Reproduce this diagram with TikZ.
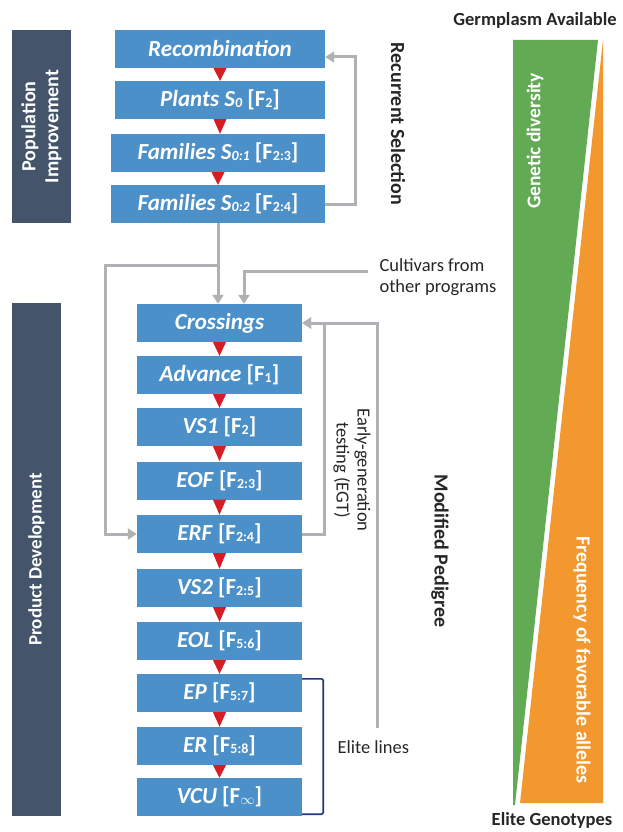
\documentclass[tikz,border=0pt]{standalone}
\usepackage{fontspec}
\setmainfont{Carlito}
\usetikzlibrary{arrows.meta,calc}

\definecolor{boxblue}{RGB}{76,144,201}
\definecolor{slate}{RGB}{68,84,106}
\definecolor{linegray}{RGB}{176,177,181}
\definecolor{selred}{RGB}{213,29,38}
\definecolor{divgreen}{RGB}{99,170,84}
\definecolor{allorange}{RGB}{242,152,46}
\definecolor{navy}{RGB}{31,56,120}

% small index in the box labels
\newcommand{\sx}[1]{\raisebox{-0.1ex}{\fontsize{14}{14}\selectfont #1}}

\tikzset{
  stepbox/.style={fill=boxblue, text=white, inner sep=0pt, minimum height=38pt,
    font=\fontsize{23}{26}\selectfont\bfseries},
  sidebox/.style={fill=slate, text=white, inner sep=0pt, align=center,
    font=\fontsize{20}{23}\selectfont\bfseries},
  feedback/.style={draw=linegray, line width=3pt},
  arr/.style={-{Triangle[width=11pt,length=9pt]}},
  sidelabel/.style={text=black!85, font=\fontsize{20}{22}\selectfont\bfseries},
  note/.style={text=black!85, font=\fontsize{18.5}{21}\selectfont, align=left}
}

\begin{document}
\begin{tikzpicture}[x=1pt, y=-1pt]
\useasboundingbox (0,0) rectangle (622,832);

% Population Improvement
\node[sidebox, rotate=90, minimum width=193pt, minimum height=59pt] (popbar) at (41.5,126.5) {Population\\Improvement};

\node[stepbox, minimum width=210pt] (rec) at (220,49) {\textit{Recombination}};
\node[stepbox, minimum width=210pt] (plants) at (220,100) {\textit{Plants S\sx{0}} [F\sx{2}]};
\node[stepbox, minimum width=214pt] (fam1) at (218,153) {\textit{Families S\sx{0:1}} [F\sx{2:3}]};
\node[stepbox, minimum width=214pt] (fam2) at (218,204) {\textit{Families S\sx{0:2}} [F\sx{2:4}]};

% Recurrent Selection loop
\coordinate (rsTop) at (355,57);
\draw[feedback, arr] (fam2.east) -| (rsTop) -- (rec.east |- rsTop);
\node[sidelabel, rotate=-90] (rslabel) at (398,124) {Recurrent Selection};

% Product Development
\node[sidebox, rotate=90, minimum width=513pt, minimum height=49pt, font=\fontsize{19}{22}\selectfont\bfseries] (prodbar) at (36.5,559.5) {Product Development};

\node[stepbox, minimum width=165pt] (cross) at (219.5,323) {\textit{Crossings}};
\node[stepbox, minimum width=165pt] (adv) at (219.5,375) {\textit{Advance} [F\sx{1}]};
\node[stepbox, minimum width=165pt] (vs1) at (219.5,427) {\textit{VS1} [F\sx{2}]};
\node[stepbox, minimum width=165pt] (eof) at (219.5,480.5) {\textit{EOF} [F\sx{2:3}]};
\node[stepbox, minimum width=165pt] (erf) at (219.5,534) {\textit{ERF} [F\sx{2:4}]};
\node[stepbox, minimum width=165pt] (vs2) at (219.5,588) {\textit{VS2} [F\sx{2:5}]};
\node[stepbox, minimum width=165pt] (eol) at (219.5,641) {\textit{EOL} [F\sx{5:6}]};
\node[stepbox, minimum width=165pt] (ep) at (219.5,693) {\textit{EP} [F\sx{5:7}]};
\node[stepbox, minimum width=165pt] (er) at (219.5,746) {\textit{ER} [F\sx{5:8}]};
\node[stepbox, minimum width=165pt] (vcu) at (219.5,797) {\textit{VCU} [F\sx{$\infty$}]};

% red selection marks between steps
\foreach \a/\b in {rec/plants, plants/fam1, fam1/fam2, cross/adv, adv/vs1, vs1/eof,
                   eof/erf, erf/vs2, vs2/eol, eol/ep, ep/er, er/vcu}
  \fill[selred] ($(\a.south)+(-6.5,0)$) -- ($(\a.south)+(6.5,0)$) -- (\a.south |- \b.north) -- cycle;

% from population improvement into crossings and ERF
\coordinate (split) at (fam2.south |- 0,265);
\draw[feedback, arr] (fam2.south) -- (fam2.south |- cross.north);
\draw[feedback, arr] (split) -- (105,265) |- (erf.west);

% cultivars from other programs
\node[note, anchor=west] (cult) at (376,277) {Cultivars from\\other programs};
\coordinate (cultEnd) at (368,271);
\draw[feedback, arr] (cultEnd) -| ($(cross.north)+(24.5,0)$);

% early-generation testing and modified pedigree loops
\coordinate (pedEnd) at (377,728);
\draw[feedback, arr] (pedEnd) |- (cross.east);
\draw[feedback, arr] (erf.east) -- ++(22,0) |- (cross.east);
\node[note, rotate=-90, align=center] (egt) at (352,470) {Early-generation\\testing (EGT)};
\node[sidelabel, rotate=-90] (pedlabel) at (440,551) {Modified Pedigree};

% Elite lines
\draw[navy, line width=1.6pt, rounded corners=1.5pt] ($(ep.north east)+(0,5)$) -- ++(21,0) |- ($(vcu.south east)+(0,-2)$);
\node[note, anchor=west] (elite) at (334,747) {Elite lines};

% Germplasm wedges
\fill[divgreen] (513,40) -- (598,40) -- (515,805) -- (513,805) -- cycle;
\fill[allorange] (603,40) -- (603,803) -- (520,803) -- cycle;
\node[sidelabel, font=\fontsize{18.5}{21}\selectfont\bfseries] (germ) at (535,20) {Germplasm Available};
\node[sidelabel, font=\fontsize{18.5}{21}\selectfont\bfseries] (elitegen) at (552,820) {Elite Genotypes};
\node[sidelabel, text=white, rotate=90, font=\fontsize{19.5}{22}\selectfont\bfseries] (gendiv) at (535,141) {Genetic diversity};
\node[sidelabel, text=white, rotate=-90] (freq) at (582,660) {Frequency of favorable alleles};

\end{tikzpicture}
\end{document}
